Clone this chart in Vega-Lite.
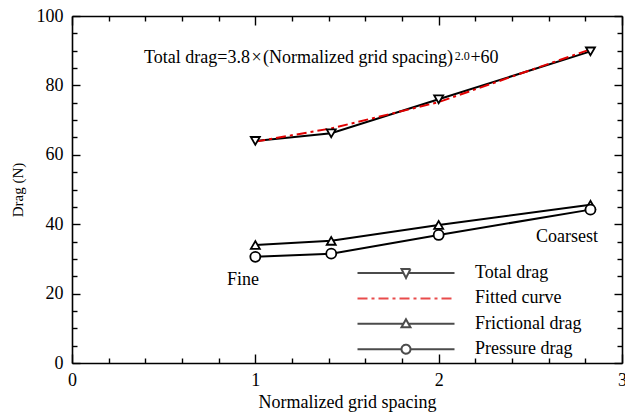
{
  "$schema": "https://vega.github.io/schema/vega-lite/v6.json",
  "width": 550,
  "height": 347,
  "autosize": {"type": "none"},
  "padding": {"left": 72, "top": 16, "right": 3, "bottom": 49},
  "config": {
    "font": "Liberation Serif",
    "view": {"stroke": null},
    "axis": {
      "domainColor": "black", "domainWidth": 1.6,
      "tickColor": "black", "tickWidth": 1.4,
      "labelColor": "black", "labelFontSize": 18, "labelFont": "Liberation Serif",
      "titleColor": "black", "titleFontWeight": "normal", "titleFont": "Liberation Serif",
      "grid": false, "labelFlush": false, "labelOverlap": false, "labelBound": false
    }
  },
  "datasets": {
    "drag": [
      {"series": "Total drag", "x": 1, "y": 64.0},
      {"series": "Total drag", "x": 1.414, "y": 66.2},
      {"series": "Total drag", "x": 2, "y": 76.0},
      {"series": "Total drag", "x": 2.828, "y": 89.8},
      {"series": "Fitted curve", "x": 1, "y": 63.8},
      {"series": "Fitted curve", "x": 1.414, "y": 67.6},
      {"series": "Fitted curve", "x": 2, "y": 75.2},
      {"series": "Fitted curve", "x": 2.828, "y": 90.4},
      {"series": "Frictional drag", "x": 1, "y": 34.0},
      {"series": "Frictional drag", "x": 1.414, "y": 35.2},
      {"series": "Frictional drag", "x": 2, "y": 39.8},
      {"series": "Frictional drag", "x": 2.828, "y": 45.6},
      {"series": "Pressure drag", "x": 1, "y": 30.6},
      {"series": "Pressure drag", "x": 1.414, "y": 31.5},
      {"series": "Pressure drag", "x": 2, "y": 36.9},
      {"series": "Pressure drag", "x": 2.828, "y": 44.2}
    ],
    "notes": [
      {"kind": "main", "x": 0.393, "y": 86.4, "text": "Total drag=3.8\u200a×\u200a(Normalized grid spacing)"},
      {"kind": "main", "x": 2.173, "y": 86.4, "text": "+60"},
      {"kind": "sup", "x": 2.088, "y": 87.3, "text": "2.0"},
      {"kind": "main", "x": 0.845, "y": 22.5, "text": "Fine"},
      {"kind": "main", "x": 2.531, "y": 34.9, "text": "Coarsest"}
    ]
  },
  "layer": [
    {
      "encoding": {
        "x": {
          "field": "x", "type": "quantitative",
          "scale": {"domain": [0, 3], "nice": false, "zero": false},
          "axis": {
            "orient": "bottom",
            "values": [0, 0.2, 0.4, 0.6, 0.8, 1, 1.2, 1.4, 1.6, 1.8, 2, 2.2, 2.4, 2.6, 2.8, 3],
            "labelExpr": "datum.value % 1 === 0 ? format(datum.value, 'd') : ''",
            "tickSize": {"condition": {"test": "datum.value % 1 === 0", "value": -9}, "value": -5},
            "labelPadding": 17,
            "title": "Normalized grid spacing", "titleFontSize": 18, "titlePadding": 0
          }
        },
        "y": {
          "field": "y", "type": "quantitative",
          "scale": {"domain": [0, 100], "nice": false, "zero": false},
          "axis": {
            "orient": "left",
            "values": [0, 5, 10, 15, 20, 25, 30, 35, 40, 45, 50, 55, 60, 65, 70, 75, 80, 85, 90, 95, 100],
            "labelExpr": "datum.value % 20 === 0 ? format(datum.value, 'd') : ''",
            "tickSize": {"condition": {"test": "datum.value % 20 === 0", "value": -8}, "value": -5},
            "labelPadding": 17,
            "title": "Drag (N)", "titleFontSize": 15, "titlePadding": 11
          }
        }
      },
      "layer": [
        {
          "data": {"name": "drag"},
          "transform": [{"filter": "datum.series !== 'Fitted curve'"}],
          "mark": {"type": "line", "color": "black", "strokeWidth": 2},
          "encoding": {"detail": {"field": "series", "type": "nominal"}}
        },
        {
          "data": {"name": "drag"},
          "transform": [{"filter": "datum.series === 'Fitted curve'"}],
          "mark": {"type": "line", "color": "#e00000", "strokeWidth": 2, "strokeDash": [10, 4, 3, 4]},
          "encoding": {}
        },
        {
          "data": {"name": "drag"},
          "transform": [{"filter": "datum.series === 'Total drag'"}],
          "mark": {"type": "point", "shape": "triangle-down", "size": 81, "filled": true, "fill": "white", "stroke": "black", "strokeWidth": 1.8, "opacity": 1}
        },
        {
          "data": {"name": "drag"},
          "transform": [{"filter": "datum.series === 'Frictional drag'"}],
          "mark": {"type": "point", "shape": "triangle-up", "size": 81, "filled": true, "fill": "white", "stroke": "black", "strokeWidth": 1.8, "opacity": 1}
        },
        {
          "data": {"name": "drag"},
          "transform": [{"filter": "datum.series === 'Pressure drag'"}],
          "mark": {"type": "point", "shape": "circle", "size": 100, "filled": true, "fill": "white", "stroke": "black", "strokeWidth": 1.8, "opacity": 1}
        },
        {
          "data": {"name": "drag"},
          "transform": [{"filter": "false"}],
          "mark": {"type": "point", "filled": false, "strokeWidth": 2, "size": 100},
          "encoding": {
            "shape": {
              "field": "series", "type": "nominal",
              "scale": {
                "domain": ["Total drag", "Fitted curve", "Frictional drag", "Pressure drag"],
                "range": [
                  "M-9.7,0H-0.5M0.5,0H9.7M-0.9,-0.8H0.9L0,1Z",
                  "M-9.7,0H9.7",
                  "M-9.7,0H-0.5M0.5,0H9.7M0,-0.9L0.9,0.7H-0.9Z",
                  "M-9.7,0H-0.9M0.9,0H9.7M0.9,0A0.9,0.9 0 1 1 -0.9,0A0.9,0.9 0 1 1 0.9,0Z"
                ]
              },
              "legend": {"orient": "none", "legendX": 325, "legendY": 248, "title": null, "labelFont": "Liberation Serif", "labelFontSize": 18, "labelColor": "black", "labelOffset": 60, "labelLimit": 0, "rowPadding": 7.4, "symbolSize": 100, "symbolStrokeWidth": 2}
            },
            "color": {
              "field": "series", "type": "nominal",
              "scale": {"domain": ["Total drag", "Fitted curve", "Frictional drag", "Pressure drag"], "range": ["black", "#e00000", "black", "black"]},
              "legend": {"orient": "none", "legendX": 325, "legendY": 248, "title": null, "labelFont": "Liberation Serif", "labelFontSize": 18, "labelColor": "black", "labelOffset": 60, "labelLimit": 0, "rowPadding": 7.4, "symbolSize": 100, "symbolStrokeWidth": 2}
            },
            "strokeDash": {
              "field": "series", "type": "nominal",
              "scale": {"domain": ["Total drag", "Fitted curve", "Frictional drag", "Pressure drag"], "range": [[1, 0], [10, 4, 3, 4], [1, 0], [1, 0]]},
              "legend": {"orient": "none", "legendX": 325, "legendY": 248, "title": null, "labelFont": "Liberation Serif", "labelFontSize": 18, "labelColor": "black", "labelOffset": 60, "labelLimit": 0, "rowPadding": 7.4, "symbolSize": 100, "symbolStrokeWidth": 2}
            }
          }
        },
        {
          "data": {"name": "notes"},
          "transform": [{"filter": "datum.kind === 'main'"}],
          "mark": {"type": "text", "align": "left", "baseline": "alphabetic", "font": "Liberation Serif", "fontSize": 18, "color": "black"},
          "encoding": {"text": {"field": "text"}}
        },
        {
          "data": {"name": "notes"},
          "transform": [{"filter": "datum.kind === 'sup'"}],
          "mark": {"type": "text", "align": "left", "baseline": "alphabetic", "font": "Liberation Serif", "fontSize": 12, "color": "black"},
          "encoding": {"text": {"field": "text"}}
        }
      ]
    },
    {
      "data": {"name": "drag"},
      "mark": {"type": "point", "opacity": 0},
      "encoding": {
        "x": {
          "field": "x", "type": "quantitative",
          "scale": {"domain": [0, 3], "nice": false, "zero": false},
          "axis": {
            "orient": "top",
            "values": [0, 0.2, 0.4, 0.6, 0.8, 1, 1.2, 1.4, 1.6, 1.8, 2, 2.2, 2.4, 2.6, 2.8, 3],
            "labels": false, "title": null,
            "tickSize": {"condition": {"test": "datum.value % 1 === 0", "value": -9}, "value": -5}
          }
        },
        "y": {
          "field": "y", "type": "quantitative",
          "scale": {"domain": [0, 100], "nice": false, "zero": false},
          "axis": {
            "orient": "right",
            "values": [0, 5, 10, 15, 20, 25, 30, 35, 40, 45, 50, 55, 60, 65, 70, 75, 80, 85, 90, 95, 100],
            "labels": false, "title": null,
            "tickSize": {"condition": {"test": "datum.value % 20 === 0", "value": -8}, "value": -5}
          }
        }
      }
    }
  ],
  "resolve": {
    "scale": {"x": "independent", "y": "independent"},
    "axis": {"x": "independent", "y": "independent"}
  }
}
